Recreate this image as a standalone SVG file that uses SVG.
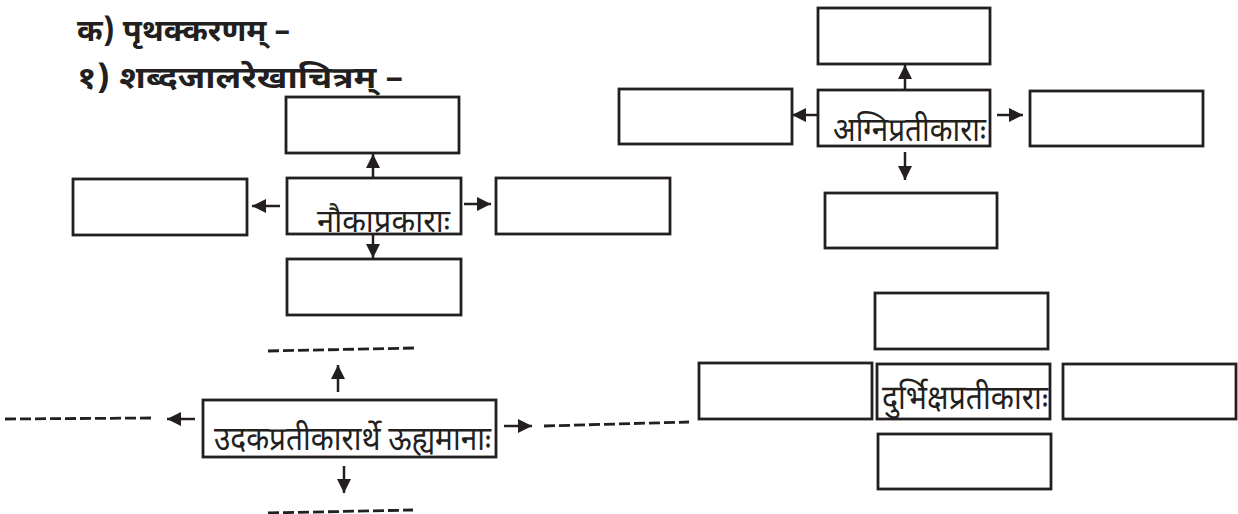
<svg xmlns="http://www.w3.org/2000/svg" width="1238" height="514" viewBox="0 0 1238 514">
<style>
.box{fill:#fff;stroke:#231f20;stroke-width:2.8}
.ar{stroke:#231f20;stroke-width:2.5;fill:none}
.dash{stroke:#231f20;stroke-width:2.8;stroke-dasharray:11 4;fill:none}
.t{font-family:"Noto Sans Devanagari","Noto Sans","Lohit Devanagari",sans-serif;fill:#231f20}
.h{font-family:"Noto Sans Devanagari","Noto Sans","Lohit Devanagari",sans-serif;fill:#231f20;font-weight:bold;font-size:30px}
</style>
<defs>
<marker id="ah" viewBox="0 0 14 14" refX="14" refY="7" markerWidth="14" markerHeight="14" markerUnits="userSpaceOnUse" orient="auto">
<path d="M0,0 L14,7 L0,14 z" fill="#231f20"/>
</marker>
</defs>
<rect width="1238" height="514" fill="#fff"/>
<g id="title">
<text class="h" x="77" y="41" textLength="213" lengthAdjust="spacingAndGlyphs">क) पृथक्करणम् –</text>
<text class="h" x="77" y="88" textLength="326" lengthAdjust="spacingAndGlyphs">१) शब्दजालरेखाचित्रम् –</text>
</g>
<g id="connectors">
<line class="ar" x1="373" y1="180" x2="373" y2="154" marker-end="url(#ah)"/>
<line class="ar" x1="280" y1="206" x2="252" y2="206" marker-end="url(#ah)"/>
<line class="ar" x1="464" y1="204" x2="491" y2="204" marker-end="url(#ah)"/>
<line class="ar" x1="373" y1="233" x2="373" y2="258" marker-end="url(#ah)"/>
<line class="ar" x1="905" y1="90" x2="905" y2="65" marker-end="url(#ah)"/>
<line class="ar" x1="817" y1="115" x2="792" y2="115" marker-end="url(#ah)"/>
<line class="ar" x1="997" y1="115" x2="1023" y2="115" marker-end="url(#ah)"/>
<line class="ar" x1="905" y1="152" x2="905" y2="180" marker-end="url(#ah)"/>
<line class="ar" x1="338" y1="392" x2="338" y2="365" marker-end="url(#ah)"/>
<line class="ar" x1="195" y1="419" x2="167" y2="419" marker-end="url(#ah)"/>
<line class="ar" x1="504" y1="426" x2="532" y2="426" marker-end="url(#ah)"/>
<line class="ar" x1="344" y1="466" x2="344" y2="493" marker-end="url(#ah)"/>
<line class="dash" x1="268" y1="351" x2="414" y2="348"/>
<line class="dash" x1="5" y1="419" x2="151" y2="418"/>
<line class="dash" x1="544" y1="426" x2="689" y2="422"/>
<line class="dash" x1="268" y1="513" x2="413" y2="510"/>
</g>
<g id="nauka">
<rect class="box" x="286" y="97" width="173" height="56"/>
<rect class="box" x="73" y="179" width="174" height="56"/>
<rect class="box" x="287" y="178" width="174" height="56"/>
<rect class="box" x="496" y="178" width="174" height="56"/>
<rect class="box" x="287" y="259" width="174" height="56"/>
<text class="t" x="317" y="232" font-size="32" textLength="133" lengthAdjust="spacingAndGlyphs">नौकाप्रकाराः</text>
</g>
<g id="agni">
<rect class="box" x="818" y="8" width="172" height="56"/>
<rect class="box" x="619" y="89" width="173" height="55"/>
<rect class="box" x="818" y="90" width="172" height="56"/>
<rect class="box" x="1030" y="91" width="173" height="55"/>
<rect class="box" x="825" y="193" width="172" height="55"/>
<text class="t" x="833" y="141" font-size="33" textLength="153" lengthAdjust="spacingAndGlyphs">अग्निप्रतीकाराः</text>
</g>
<g id="udaka">
<rect class="box" x="203" y="400" width="293" height="57"/>
<text class="t" x="214" y="450" font-size="33" textLength="277" lengthAdjust="spacingAndGlyphs">उदकप्रतीकारार्थे ऊह्यमानाः</text>
</g>
<g id="durbhiksha">
<rect class="box" x="875" y="293" width="173" height="56"/>
<rect class="box" x="699" y="363" width="173" height="56"/>
<rect class="box" x="877" y="364" width="173" height="55"/>
<rect class="box" x="1063" y="364" width="173" height="55"/>
<rect class="box" x="878" y="434" width="173" height="55"/>
<text class="t" x="882" y="409" font-size="34" textLength="166" lengthAdjust="spacingAndGlyphs">दुर्भिक्षप्रतीकाराः</text>
</g>
</svg>
